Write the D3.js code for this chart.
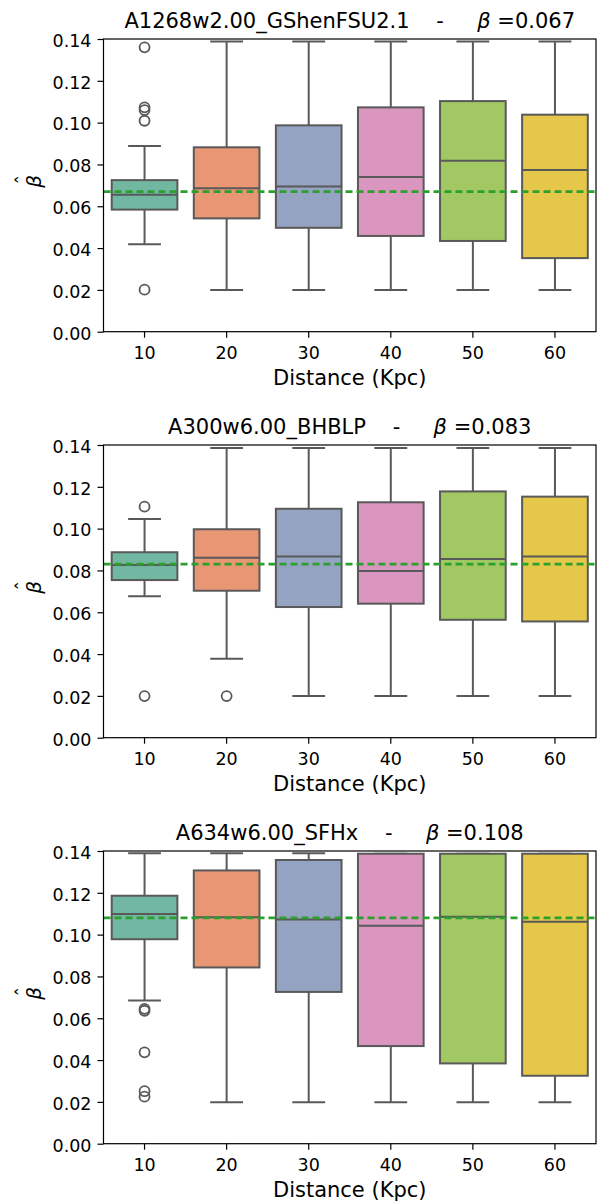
<!DOCTYPE html>
<html><head><meta charset="utf-8">
<script src="https://cdn.jsdelivr.net/npm/d3@7"></script>
<style>
body{margin:0;background:#fff}
svg{display:block}
text{font-family:"DejaVu Sans",sans-serif;fill:#000}
</style>
</head><body>
<svg id="c" width="602" height="1201"></svg>
<script>
const categories = ["10","20","30","40","50","60"];
const yTicks = [0,0.02,0.04,0.06,0.08,0.10,0.12,0.14];
const colors = ["#71b7a1","#e99675","#95a3c3","#db96c0","#a2c864","#e5c849"];
const modelNames = ["A1268w2.00_GShenFSU2.1","A300w6.00_BHBLP","A634w6.00_SFHx"];
const trueBetas = ["0.067","0.083","0.108"];
const xLabel = "Distance (Kpc)";

// Panel 1
const p1Low    = [0.0418,0.0200,0.0200,0.0200,0.0200,0.0200];
const p1Q1     = [0.0584,0.0542,0.0497,0.0458,0.0434,0.0352];
const p1Median = [0.0655,0.0686,0.0695,0.0740,0.0818,0.0773];
const p1Q3     = [0.0725,0.0882,0.0987,0.1073,0.1103,0.1038];
const p1High   = [0.0888,0.1388,0.1388,0.1388,0.1388,0.1388];
const p1Outliers = [[0.1360,0.1073,0.1060,0.1009,0.0201],[],[],[],[],[]];

// Panel 2
const p2Low    = [0.0676,0.0378,0.0200,0.0200,0.0200,0.0200];
const p2Q1     = [0.0754,0.0703,0.0625,0.0641,0.0564,0.0556];
const p2Median = [0.0826,0.0861,0.0867,0.0797,0.0855,0.0867];
const p2Q3     = [0.0887,0.0997,0.1095,0.1126,0.1178,0.1153];
const p2High   = [0.1046,0.1386,0.1386,0.1386,0.1386,0.1386];
const p2Outliers = [[0.1105,0.0199],[0.0199],[],[],[],[]];

// Panel 3
const p3Low    = [0.0685,0.0198,0.0198,0.0198,0.0198,0.0198];
const p3Q1     = [0.0978,0.0843,0.0726,0.0467,0.0384,0.0325];
const p3Median = [0.1099,0.1083,0.1072,0.1042,0.1085,0.1062];
const p3Q3     = [0.1186,0.1307,0.1357,0.1387,0.1387,0.1387];
const p3High   = [0.1389,0.1389,0.1389,0.1387,0.1387,0.1387];
const p3Outliers = [[0.0645,0.0636,0.0437,0.0251,0.0225],[],[],[],[],[]];

const panels = [
  {low:p1Low,q1:p1Q1,med:p1Median,q3:p1Q3,high:p1High,out:p1Outliers},
  {low:p2Low,q1:p2Q1,med:p2Median,q3:p2Q3,high:p2High,out:p2Outliers},
  {low:p3Low,q1:p3Q1,med:p3Median,q3:p3Q3,high:p3High,out:p3Outliers}
];

const svg = d3.select("#c");
const left = 103.5, right = 596, H = 292.7, step = 406;
const lineCol = "#595959";
const LW = 2;

panels.forEach((p, k) => {
  const top = 39 + step*k, bottom = top + H;
  const x = d3.scaleBand().domain(categories).range([left,right]).padding(0);
  const y = d3.scaleLinear().domain([0,0.14]).range([bottom, top]);
  const bw = x.bandwidth()*0.8;
  const g = svg.append("g");

  categories.forEach((c, i) => {
    const cx = x(c) + x.bandwidth()/2;
    const gb = g.append("g");
    gb.append("line").attr("x1",cx).attr("x2",cx).attr("y1",y(p.q3[i])).attr("y2",y(p.high[i]))
      .attr("stroke",lineCol).attr("stroke-width",LW);
    gb.append("line").attr("x1",cx).attr("x2",cx).attr("y1",y(p.q1[i])).attr("y2",y(p.low[i]))
      .attr("stroke",lineCol).attr("stroke-width",LW);
    [p.high[i], p.low[i]].forEach(v => {
      gb.append("line").attr("x1",cx-bw/4).attr("x2",cx+bw/4).attr("y1",y(v)).attr("y2",y(v))
        .attr("stroke",lineCol).attr("stroke-width",LW);
    });
    gb.append("rect").attr("x",cx-bw/2).attr("width",bw)
      .attr("y",y(p.q3[i])).attr("height",y(p.q1[i])-y(p.q3[i]))
      .attr("fill",colors[i]).attr("stroke",lineCol).attr("stroke-width",LW);
    gb.append("line").attr("x1",cx-bw/2).attr("x2",cx+bw/2).attr("y1",y(p.med[i])).attr("y2",y(p.med[i]))
      .attr("stroke",lineCol).attr("stroke-width",LW);
    gb.selectAll("circle.o").data(p.out[i]).join("circle").attr("class","o")
      .attr("cx",cx).attr("cy",d=>y(d)).attr("r",5)
      .attr("fill","none").attr("stroke",lineCol).attr("stroke-width",1.8);
  });

  g.append("line").attr("x1",left).attr("x2",right)
    .attr("y1",y(+trueBetas[k])).attr("y2",y(+trueBetas[k]))
    .attr("stroke","#2ca02c").attr("stroke-width",2.6).attr("stroke-dasharray","7,4");

  const ax = g.append("g").attr("transform",`translate(0,${bottom})`)
    .call(d3.axisBottom(x).tickSize(6).tickPadding(8.6));
  const ay = g.append("g").attr("transform",`translate(${left},0)`)
    .call(d3.axisLeft(y).tickValues(yTicks).tickFormat(d3.format(".2f")).tickSize(6).tickPadding(6));
  [ax, ay].forEach(a => {
    a.select(".domain").remove();
    a.selectAll(".tick line").attr("stroke","#000").attr("stroke-width",1.2);
    a.selectAll(".tick text").attr("font-size","17.5px").attr("font-family","DejaVu Sans").attr("fill","#000");
  });
  ay.selectAll(".tick text").attr("dy","0.42em");

  g.append("rect").attr("x",left).attr("y",top).attr("width",right-left).attr("height",H)
    .attr("fill","none").attr("stroke","#000").attr("stroke-width",1.2);

  const t = g.append("text").attr("x",(left+right)/2).attr("y",top-10.7)
    .attr("text-anchor","middle").attr("font-size","21px").style("white-space","pre");
  t.append("tspan").text(modelNames[k] + "    -     ");
  t.append("tspan").attr("font-style","italic").text("β");
  t.append("tspan").text(" =" + trueBetas[k]);

  g.append("text").attr("x",(left+right)/2).attr("y",bottom+53.3)
    .attr("text-anchor","middle").attr("font-size","21px").text(xLabel);

  // y label: beta with hat
  const yl = g.append("g").attr("transform",`translate(41,${top+H/2-4}) rotate(-90)`);
  yl.append("text").attr("text-anchor","middle").attr("font-size","20px").attr("font-style","italic").text("β");
  yl.append("text").attr("x",1.5).attr("y",-11).attr("text-anchor","middle").attr("font-size","20px").text("ˆ");
});
</script>
</body></html>
